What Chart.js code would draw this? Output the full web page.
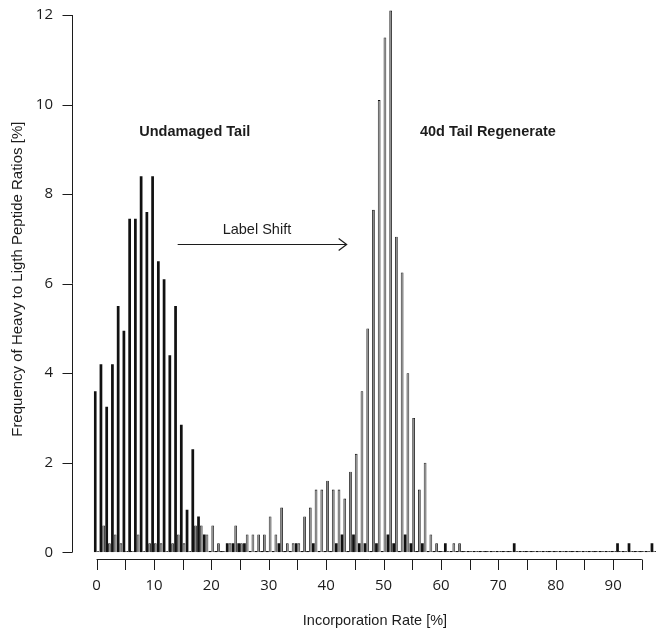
<!DOCTYPE html>
<html>
<head>
<meta charset="utf-8">
<script src="https://cdn.jsdelivr.net/npm/chart.js@4.4.1/dist/chart.umd.min.js"></script>
<style>
  html, body { margin: 0; padding: 0; background: #fff; }
  #wrap { width: 659px; height: 632px; }
</style>
</head>
<body>
<div id="wrap"><canvas id="incorporationChart" width="659" height="632"></canvas></div>
<script>
// incorporation rate bins, 0..97 %
const rates = Array.from({ length: 98 }, (_, i) => String(i));

// undamaged tail (black bars)
const undamaged = [
    3.6, 4.2, 3.25, 4.2, 5.5, 4.95, 7.45, 7.45, 8.4, 7.6,
    8.4, 6.5, 6.1, 4.4, 5.5, 2.85, 0.95, 2.3, 0.8, 0.4,
    0, 0, 0, 0.2, 0.2, 0.2, 0.2, 0, 0, 0,
    0, 0, 0.2, 0, 0, 0.2, 0, 0, 0.2, 0,
    0, 0, 0.2, 0.4, 0, 0.4, 0.2, 0.2, 0, 0.2,
    0, 0.4, 0.2, 0, 0.4, 0.2, 0, 0.2, 0, 0,
    0, 0.2, 0, 0, 0, 0, 0, 0, 0, 0,
    0, 0, 0, 0.2, 0, 0, 0, 0, 0, 0,
    0, 0, 0, 0, 0, 0, 0, 0, 0, 0,
    0, 0.2, 0, 0.2, 0, 0, 0, 0.2,
];

// 40d tail regenerate (grey bars)
const regenerate = [
    0, 0.6, 0.2, 0.4, 0.2, 0, 0, 0.4, 0, 0.2,
    0.2, 0.2, 0, 0.2, 0.4, 0.2, 0, 0.6, 0.6, 0.4,
    0.6, 0.2, 0, 0.2, 0.6, 0.2, 0.4, 0.4, 0.4, 0.4,
    0.8, 0.4, 1.0, 0.2, 0.2, 0.2, 0.8, 1.0, 1.4, 1.4,
    1.6, 1.4, 1.4, 1.2, 1.8, 2.2, 3.6, 5.0, 7.65, 10.1,
    11.5, 12.1, 7.05, 6.25, 4.0, 3.0, 1.4, 2.0, 0.4, 0.2,
    0, 0, 0.2, 0.2, 0, 0, 0, 0, 0, 0,
    0, 0, 0, 0, 0, 0, 0, 0, 0, 0,
    0, 0, 0, 0, 0, 0, 0, 0, 0, 0,
    0, 0, 0, 0, 0, 0, 0, 0,
];

const yTicks = [0, 2, 4, 6, 8, 10, 12];
const xTicks = [0, 5, 10, 15, 20, 25, 30, 35, 40, 45, 50, 55, 60, 65, 70, 75, 80, 85, 90, 95];

// annotations in data units: [text, x, y, bold]
const notes = [
    ['Undamaged Tail', 7.44, 9.38, true],
    ['40d Tail Regenerate', 56.34, 9.38, true],
    ['Label Shift', 21.97, 7.21, false],
];
const arrow = { from: 14.13, to: 43.57, y: 6.89 };

const ink = '#1c1c1c';
const textFont = '"Liberation Sans", Arial, sans-serif';

// R style detached axes + text annotations
const rAxes = {
    id: 'rAxes',
    afterDraw(chart) {
        const { ctx, chartArea } = chart;
        const xs = chart.scales.x;
        const ys = chart.scales.y;
        ctx.save();
        ctx.strokeStyle = ink;
        ctx.lineWidth = 1;

        const ax = Math.round(chartArea.left - 21.7) + 0.5;
        ctx.beginPath();
        ctx.moveTo(ax, ys.getPixelForValue(yTicks[0]));
        ctx.lineTo(ax, ys.getPixelForValue(yTicks[yTicks.length - 1]));
        yTicks.forEach(v => {
            const py = Math.round(ys.getPixelForValue(v)) + 0.5;
            ctx.moveTo(ax, py);
            ctx.lineTo(ax - 10, py);
        });
        ctx.stroke();

        const ay = Math.round(chartArea.bottom + 6.5) + 0.5;
        ctx.beginPath();
        ctx.moveTo(xs.getPixelForValue(xTicks[0]), ay);
        ctx.lineTo(xs.getPixelForValue(xTicks[xTicks.length - 1]), ay);
        xTicks.forEach(v => {
            const px = Math.round(xs.getPixelForValue(v)) + 0.5;
            ctx.moveTo(px, ay);
            ctx.lineTo(px, ay + 10.5);
        });
        ctx.stroke();

        ctx.fillStyle = ink;
        ctx.textBaseline = 'middle';
        ctx.textAlign = 'left';
        notes.forEach(([text, x, y, bold]) => {
            ctx.font = (bold ? 'bold ' : '') + '14.5px ' + textFont;
            ctx.fillText(text, xs.getPixelForValue(x), ys.getPixelForValue(y));
        });

        const x0 = xs.getPixelForValue(arrow.from);
        const x1 = xs.getPixelForValue(arrow.to);
        const yy = Math.round(ys.getPixelForValue(arrow.y)) + 0.5;
        ctx.lineWidth = 1.2;
        ctx.beginPath();
        ctx.moveTo(x0, yy);
        ctx.lineTo(x1, yy);
        ctx.moveTo(x1 - 8, yy - 6);
        ctx.lineTo(x1, yy);
        ctx.lineTo(x1 - 8, yy + 6);
        ctx.stroke();
        ctx.restore();
    },
};

new Chart(document.getElementById('incorporationChart'), {
    type: 'bar',
    data: {
        labels: rates,
        datasets: [
            {
                label: 'Undamaged Tail',
                data: undamaged,
                backgroundColor: '#111',
                borderWidth: 0,
                minBarLength: 1.4,
            },
            {
                label: '40d Tail Regenerate',
                data: regenerate,
                backgroundColor: '#858585',
                borderColor: '#111',
                borderWidth: 0.85,
                minBarLength: 1.4,
            },
        ],
    },
    options: {
        responsive: false,
        animation: false,
        devicePixelRatio: 1,
        layout: { padding: { top: 6.1, right: 2.8, left: 0, bottom: 0 } },
        datasets: { bar: { categoryPercentage: 0.95, barPercentage: 1 } },
        plugins: { legend: { display: false }, tooltip: { enabled: false } },
        scales: {
            x: {
                type: 'category',
                grid: { display: false, drawTicks: false },
                border: { display: false },
                afterFit(scale) {
                    scale.height = 79.7;
                    scale.paddingLeft = 0;
                    scale.paddingRight = 0;
                },
                ticks: {
                    autoSkip: false,
                    maxRotation: 0,
                    minRotation: 0,
                    padding: 24,
                    color: ink,
                    font: { family: '"Open Sans", sans-serif', size: 15 },
                    callback: (val, idx) => (idx % 10 === 0 && idx <= 90 ? String(idx) : ''),
                },
                title: {
                    display: true,
                    text: 'Incorporation Rate [%]',
                    color: ink,
                    font: { family: textFont, size: 14.5 },
                    padding: { top: 0, bottom: 2.5 },
                },
            },
            y: {
                min: 0,
                max: 12.2,
                grid: { display: false, drawTicks: false },
                border: { display: false },
                afterFit(scale) {
                    scale.width = 93.7;
                    scale.paddingTop = 0;
                    scale.paddingBottom = 0;
                },
                ticks: {
                    stepSize: 2,
                    includeBounds: false,
                    padding: 40.7,
                    color: ink,
                    font: { family: '"Open Sans", sans-serif', size: 15 },
                },
                title: {
                    display: true,
                    text: 'Frequency of Heavy to Ligth Peptide Ratios [%]',
                    color: ink,
                    font: { family: textFont, size: 15 },
                    padding: { top: 9, bottom: 0 },
                },
            },
        },
    },
    plugins: [rAxes],
});
</script>
</body>
</html>
